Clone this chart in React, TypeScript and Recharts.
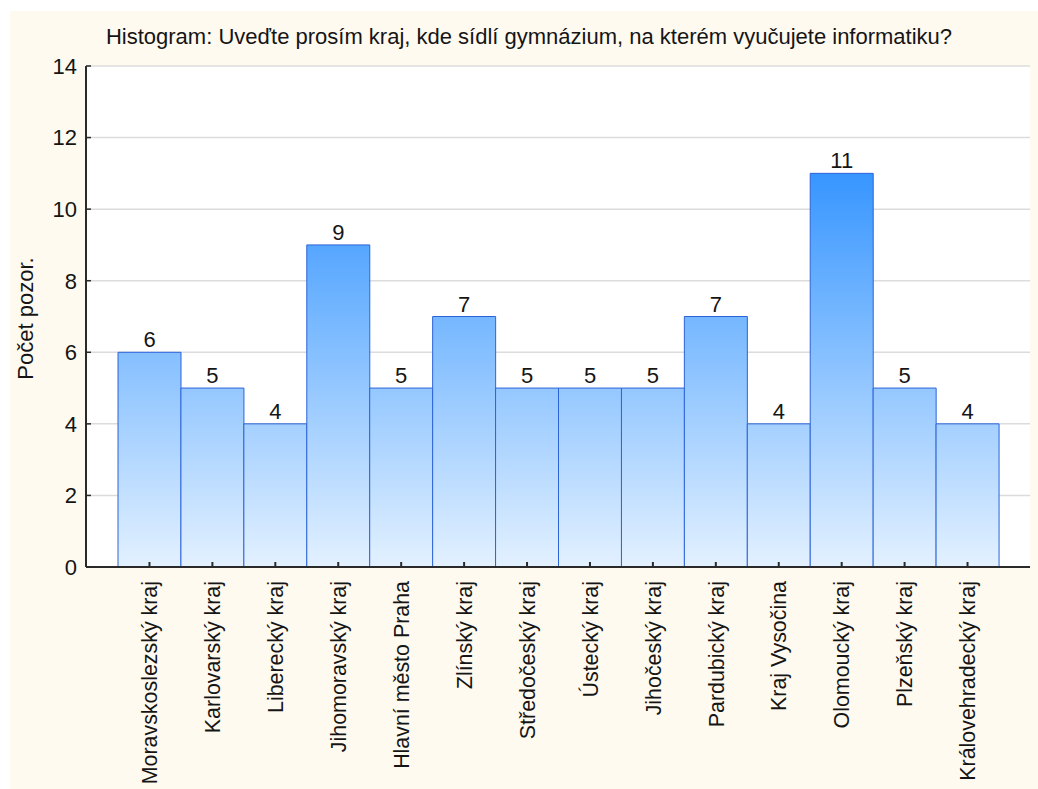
import { BarChart, Bar, XAxis, YAxis, CartesianGrid, LabelList } from 'recharts'

const KRAJE = [
  'Moravskoslezský kraj',
  'Karlovarský kraj',
  'Liberecký kraj',
  'Jihomoravský kraj',
  'Hlavní město Praha',
  'Zlínský kraj',
  'Středočeský kraj',
  'Ústecký kraj',
  'Jihočeský kraj',
  'Pardubický kraj',
  'Kraj Vysočina',
  'Olomoucký kraj',
  'Plzeňský kraj',
  'Královehradecký kraj',
]
const POCTY = [6, 5, 4, 9, 5, 7, 5, 5, 5, 7, 4, 11, 5, 4]
const Y_TICKS = [0, 2, 4, 6, 8, 10, 12, 14]

const TITLE = 'Histogram: Uveďte prosím kraj, kde sídlí gymnázium, na kterém vyučujete informatiku?'
const Y_LABEL = 'Počet pozor.'

const FONT = '"Liberation Sans", Arial, sans-serif'
const FS = 22
const TEXT = '#151515'
const AXIS = '#2a2a2a'
const BG = '#fffaf0'

// plot box inside the svg
const PLOT_TOP = 55
const PLOT_BOTTOM = 556

const data = KRAJE.map((kraj, i) => ({ kraj, pocet: POCTY[i] }))

function KrajTick({ x, y, payload }: any) {
  return (
    <text
      x={x}
      y={y}
      transform={`rotate(-90 ${x} ${y})`}
      textAnchor="end"
      dy="0.36em"
      fontSize={21.4}
      fontFamily={FONT}
      fill={TEXT}
    >
      {payload.value}
    </text>
  )
}

function YLabel({ viewBox }: any) {
  const x = viewBox.x + 23
  const y = viewBox.y + viewBox.height / 2 + 2
  return (
    <text
      x={x}
      y={y}
      transform={`rotate(-90 ${x} ${y})`}
      textAnchor="middle"
      fontSize={FS}
      fontFamily={FONT}
      fill={TEXT}
    >
      {Y_LABEL}
    </text>
  )
}

export default function App() {
  return (
    <div style={{ position: 'absolute', left: 10, top: 11, width: 1028, height: 778, background: BG }}>
      <div
        style={{
          position: 'absolute',
          left: 0,
          top: 14,
          width: 1038,
          textAlign: 'center',
          fontFamily: FONT,
          fontSize: FS,
          color: TEXT,
          lineHeight: '24px',
        }}
      >
        {TITLE}
      </div>
      <BarChart
        width={1028}
        height={778}
        data={data}
        margin={{ top: PLOT_TOP, right: 8, left: 0, bottom: 0 }}
        barCategoryGap={0}
      >
        <defs>
          <linearGradient id="barFill" gradientUnits="userSpaceOnUse" x1="0" y1={163} x2="0" y2={PLOT_BOTTOM}>
            <stop offset="0%" stopColor="#3796ff" />
            <stop offset="100%" stopColor="#e3f1ff" />
          </linearGradient>
        </defs>
        <CartesianGrid
          xAxisId="b"
          yAxisId="l"
          vertical={false}
          fill="#ffffff"
          fillOpacity={1}
          stroke="#dcdcdc"
          strokeWidth={1.5}
        />
        <XAxis
          xAxisId="b"
          dataKey="kraj"
          height={222}
          interval={0}
          padding={{ left: 32, right: 31 }}
          tick={<KrajTick />}
          tickSize={-5}
          tickMargin={19}
          axisLine={{ stroke: AXIS, strokeWidth: 2 }}
          tickLine={{ stroke: AXIS, strokeWidth: 2 }}
        />
        <XAxis
          xAxisId="t"
          dataKey="kraj"
          orientation="top"
          height={0}
          interval={0}
          padding={{ left: 32, right: 31 }}
          tick={false}
          tickSize={-5}
          axisLine={{ stroke: AXIS, strokeWidth: 1.5 }}
          tickLine={{ stroke: AXIS, strokeWidth: 1.5 }}
        />
        <YAxis
          yAxisId="l"
          width={76}
          domain={[0, 14]}
          ticks={Y_TICKS}
          interval={0}
          tickSize={-5}
          tickMargin={14}
          tick={{ fontSize: FS, fontFamily: FONT, fill: TEXT }}
          axisLine={{ stroke: AXIS, strokeWidth: 2 }}
          tickLine={{ stroke: AXIS, strokeWidth: 1.5 }}
          label={<YLabel />}
        />
        <YAxis
          yAxisId="r"
          orientation="right"
          width={0}
          domain={[0, 14]}
          ticks={Y_TICKS}
          interval={0}
          tick={false}
          tickSize={-5}
          axisLine={{ stroke: AXIS, strokeWidth: 2 }}
          tickLine={{ stroke: AXIS, strokeWidth: 1.5 }}
        />
        <Bar
          xAxisId="b"
          yAxisId="l"
          dataKey="pocet"
          fill="url(#barFill)"
          stroke="#2c63d8"
          strokeWidth={1}
          isAnimationActive={false}
        >
          <LabelList dataKey="pocet" position="top" offset={5} fontSize={FS} fontFamily={FONT} fill={TEXT} />
        </Bar>
      </BarChart>
    </div>
  )
}
